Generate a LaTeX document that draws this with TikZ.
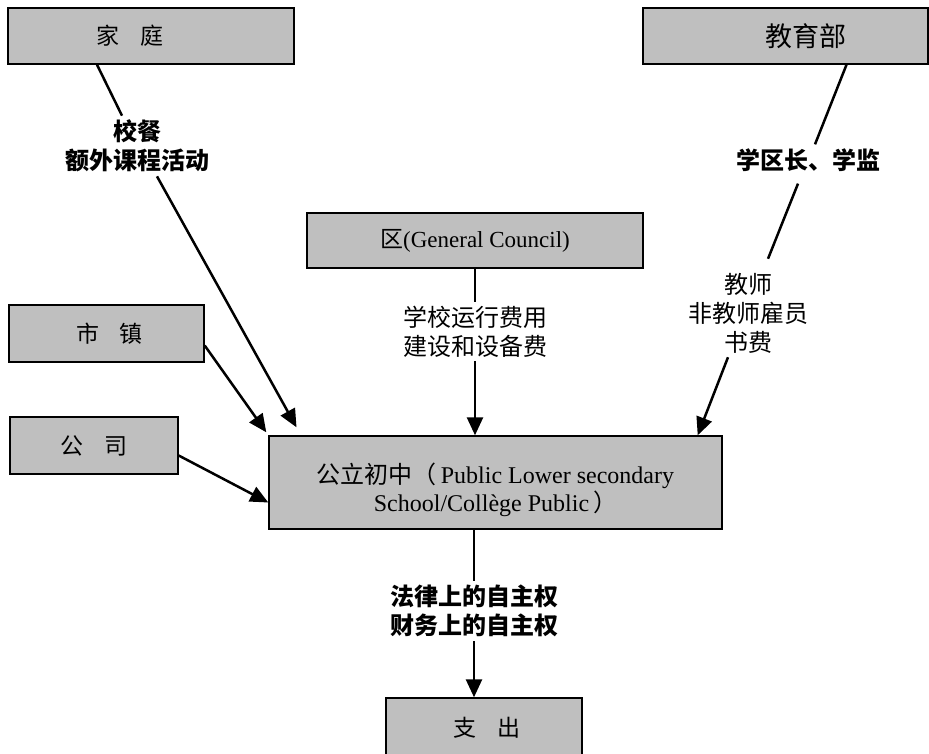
\documentclass[tikz,border=0pt]{standalone}
\usepackage{fontspec}
\setmainfont{Liberation Serif}
\newfontfamily\cjk{Noto Sans CJK SC}
\usetikzlibrary{arrows.meta}

\newcommand{\boxfont}{\cjk\fontsize{23}{27}\selectfont}
\tikzset{
  box/.style={draw, line width=1.4pt, fill=black!25, inner sep=0pt},
  tag/.style={align=center, inner sep=4pt, font=\cjk\fontsize{24}{29}\selectfont},
  boldtag/.style={tag, font=\cjk\bfseries\fontsize{24}{29}\selectfont},
  link/.style={line width=2.5pt},
}

\begin{document}
\begin{tikzpicture}[x=1pt, y=-1pt, >={Triangle[length=18pt,width=16pt]}]
  \useasboundingbox (0,0) rectangle (929,754);

  % the funding bodies
  \node[box, minimum width=286pt, minimum height=56pt, font=\boxfont] (family) at (151,36) {家\hspace{0.9em}庭\kern42pt\mbox{}};
  \node[box, minimum width=285pt, minimum height=56pt, font=\cjk\fontsize{27}{30}\selectfont] (ministry) at (785.5,36) {\hspace{40pt}教育部};
  \node[box, minimum width=336pt, minimum height=55pt, font=\fontsize{23}{27}\selectfont] (council) at (475,240.5) {{\cjk 区}(General Council)};
  \node[box, minimum width=195pt, minimum height=57pt, font=\boxfont] (town) at (106.5,333.5) {\hspace{6pt}市\hspace{0.9em}镇};
  \node[box, minimum width=168pt, minimum height=57pt, font=\boxfont] (company) at (94,445.5) {公\hspace{0.9em}司};

  % the school and what it spends
  \node[box, minimum width=453pt, minimum height=93pt, font=\fontsize{24}{25}\selectfont] (school) at (495.5,482.5)
    {\raisebox{-8pt}[\height][\depth]{\begin{tabular}{@{}c@{}}{\cjk 公立初中（}\,Public Lower secondary\\School/Collège Public\,{\cjk ）}\end{tabular}}};
  \node[box, minimum width=196pt, minimum height=60pt, font=\boxfont] (expense) at (484,728) {\hspace{6pt}支\hspace{0.9em}出};

  % what is paid
  \node[boldtag] (meals) at (137,146) {校餐\\额外课程活动};
  \node[boldtag] (rector) at (808,160) {学区长、学监};
  \node[tag] (teachers) at (748,313) {教师\\非教师雇员\\书费};
  \node[tag] (funds) at (475,331.5) {学校运行费用\\建设和设备费};
  \node[boldtag] (autonomy) at (474,611) {法律上的自主权\\财务上的自主权};

  \draw[link] ([xshift=-54pt]family.south) -- ([xshift=-15pt]meals.north);
  \draw[link,->] ([xshift=20pt]meals.south) -- ([xshift=-199pt,yshift=8pt]school.north);

  \draw[link] ([xshift=61pt]ministry.south) -- ([xshift=7pt]rector.north);
  \draw[link] ([xshift=-10pt,yshift=-8pt]rector.south) -- ([xshift=20pt,yshift=10pt]teachers.north);
  \draw[link,->] ([xshift=-20pt]teachers.south) -- ([xshift=-25pt]school.north east);

  \draw[link] (council) -- (funds);
  \draw[link,->] (funds) -- (funds |- school.north);

  \draw[link,->] ([yshift=-12pt]town.east) -- ([xshift=-2pt,yshift=3pt]school.north west);
  \draw[link,->] ([yshift=-10pt]company.east) -- ([yshift=-20pt]school.west);

  \draw[link] (school.south -| autonomy) -- (autonomy);
  \draw[link,->] (autonomy) -- (autonomy |- expense.north);
\end{tikzpicture}
\end{document}
